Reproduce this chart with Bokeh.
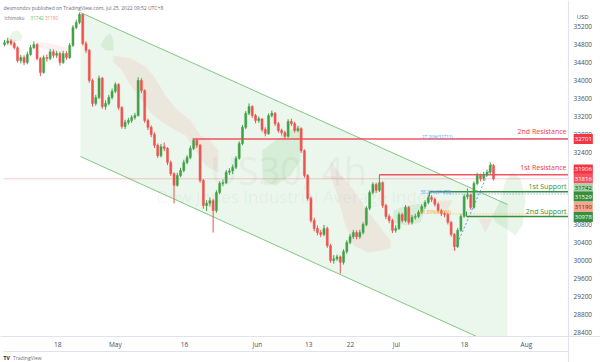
from bokeh.plotting import figure
from bokeh.models import ColumnDataSource, Label, FixedTicker, Range1d
from bokeh.core.properties import value
from bokeh.embed import file_html
from bokeh.resources import INLINE

# ---------------- data ----------------
first_open = 34800
close = [34840, 34880, 34820, 34730, 34440, 34510, 34400, 34580, 34730, 34800,
         34490, 34180, 34510, 34490, 34640, 34560, 34600, 34400, 34600, 34510,
         34780, 35180, 35290, 35470, 34820, 34670, 34000, 33490, 33620, 34050,
         33420, 33490, 33620, 33760, 33910, 33400, 32980, 33070, 33110, 33180,
         33220, 34000, 33780, 33110, 32960, 32800, 32560, 32330, 32530, 32490,
         32180, 31930, 31670, 31890, 32000, 32180, 32290, 32490, 32670, 32560,
         31780, 31220, 31270, 31330, 31110, 31510, 31710, 31730, 31960, 31990,
         32070, 32270, 32600, 32960, 33270, 33420, 33220, 33110, 33150, 32910,
         32820, 33220, 33270, 33040, 32890, 32840, 32760, 33090, 33040, 32890,
         32930, 32440, 31890, 31380, 30890, 30710, 30620, 30580, 30710, 30330,
         30000, 30040, 30080, 29960, 30200, 30400, 30530, 30620, 30530, 30620,
         30800, 31160, 31510, 31690, 31560, 31730, 31220, 30980, 30890, 30670,
         30710, 31020, 30890, 31180, 30850, 30960, 30980, 31070, 31200, 31290,
         31400, 31360, 31250, 31110, 31040, 31020, 30850, 30580, 30310, 30670,
         30980, 31420, 31460, 31180, 31710, 31890, 31820, 31910, 31960, 32110,
         31816]
high = [34900, 34950, 34920, 34860, 34760, 34570, 34560, 34640, 34790, 34870,
        34830, 34520, 34560, 34580, 34700, 34690, 34660, 34640, 34660, 34650,
        34830, 35230, 35350, 35510, 35480, 34870, 34700, 34040, 33680, 34110,
        34080, 33560, 33680, 33820, 33960, 33940, 33430, 33130, 33170, 33230,
        33280, 34070, 34050, 33800, 33150, 33000, 32850, 32600, 32590, 32620,
        32520, 32220, 31960, 31950, 32060, 32240, 32340, 32550, 32700, 32700,
        32590, 31810, 31340, 31400, 31370, 31560, 31760, 31800, 32010, 32050,
        32130, 32320, 32650, 33010, 33320, 33490, 33450, 33260, 33200, 33150,
        32960, 33270, 33330, 33300, 33080, 32930, 32880, 33140, 33150, 33080,
        32990, 32960, 32470, 31920, 31420, 30950, 30780, 30680, 30790, 30750,
        30370, 30120, 30130, 30110, 30250, 30450, 30590, 30680, 30670, 30680,
        30850, 31210, 31560, 31740, 31730, 31910, 31760, 31260, 31030, 30930,
        30780, 31070, 31060, 31230, 31210, 31010, 31040, 31120, 31250, 31340,
        31460, 31450, 31400, 31290, 31150, 31090, 31060, 30880, 30610, 30720,
        31030, 31470, 31600, 31480, 31760, 31950, 31930, 31970, 32020, 32180,
        32140]
low = [34760, 34800, 34780, 34690, 34400, 34380, 34340, 34360, 34550, 34700,
       34450, 34100, 34150, 34420, 34450, 34500, 34500, 34330, 34370, 34460,
       34480, 34750, 35140, 35250, 34780, 34610, 33950, 33420, 33440, 33590,
       33370, 33350, 33450, 33580, 33720, 33350, 32930, 32920, 33020, 33060,
       33130, 33200, 33720, 33060, 32900, 32740, 32500, 32280, 32290, 32430,
       32120, 31880, 31270, 31640, 31850, 31960, 32140, 32250, 32450, 32500,
       31730, 31150, 31100, 31200, 30620, 31060, 31470, 31650, 31700, 31900,
       31920, 32030, 32240, 32560, 32920, 33230, 33170, 33050, 33060, 32860,
       32760, 32790, 33180, 32990, 32840, 32780, 32700, 32730, 32990, 32840,
       32850, 32390, 31840, 31330, 30840, 30650, 30560, 30520, 30540, 30280,
       29950, 29930, 29990, 29710, 29910, 30150, 30360, 30480, 30470, 30480,
       30580, 30760, 31120, 31470, 31500, 31520, 31170, 30920, 30830, 30610,
       30620, 30680, 30840, 30850, 30800, 30800, 30910, 30940, 31030, 31150,
       31250, 31300, 31200, 31060, 30990, 30960, 30800, 30530, 30220, 30280,
       30640, 30950, 31360, 31130, 31150, 31670, 31760, 31770, 31870, 31920,
       31780]

price_ticks = [28400, 28800, 29200, 29600, 30000, 30400, 30800, 31200, 31600,
               32000, 32400, 32800, 33200, 33600, 34000, 34400, 34800, 35200]
time_tick_pos = [16.3, 34.0, 55.2, 77.6, 93.3, 106.1, 120.2, 141.1, 160.1]
time_tick_labels = ["18", "May", "16", "Jun", "13", "22", "Jul", "18", "Aug"]

resist2 = 32701
resist1 = 31906
support1 = 31529
support2 = 30978
last_price = 31816
ichimoku_a = 31742
ichimoku_b = 31190
fib_levels = [32711, 31478, 31036]
fib_names = ["-27.20%(32711)", "38.20%(31478)", "61.80%(31036)"]

channel_x = [23.3, 154.3, 154.3, 144.8, 23.3]
channel_y = [35511, 31244, 28312, 28312, 32311]
channel_upper_x = [23.3, 154.3]
channel_upper_y = [35511, 31244]
channel_lower_x = [23.3, 144.8]
channel_lower_y = [32311, 28312]

green_cloud_x = [[1.2, 2.5, 4.3, 5.5, 4.9, 1.8],
                 [29.4, 31.0, 32.5, 33.4, 33.4, 31.0],
                 [79.1, 83.1, 87.7, 90.8, 90.8, 87.7, 83.1, 79.1],
                 [119.3, 123.0, 127.6, 129.1, 127.6, 123.0, 119.3],
                 [149.7, 152.1, 153.7, 155.8, 158.3, 159.8, 158.9, 156.7, 153.7, 150.6]]
green_cloud_y = [[34934, 35089, 35111, 34978, 34889, 34845],
                 [34778, 34978, 35045, 34889, 34667, 34667],
                 [32445, 32667, 32889, 33000, 32223, 31889, 31667, 31778],
                 [31111, 31223, 31267, 31156, 30845, 30778, 30845],
                 [31001, 31334, 31778, 31956, 31823, 31334, 30778, 30556, 30712, 30845]]
red_cloud_x = [[0.9, 3.4, 3.4, 0.9],
               [10.1, 14.1, 19.3, 19.3, 14.1, 10.1],
               [33.4, 38.7, 43.3, 46.3, 49.4, 52.5, 57.1, 60.1, 63.2, 65.6,
                65.6, 61.7, 58.6, 55.5, 51.5, 48.5, 44.8, 41.7, 38.7, 35.6, 33.4],
               [100.0, 102.1, 107.1, 111.3, 115.3, 118.4,
                118.4, 115.3, 111.3, 107.1, 104.6, 102.1, 100.0],
               [132.8, 137.4, 135.3],
               [145.4, 149.7, 147.5]]
red_cloud_y = [[34889, 34911, 34756, 34778],
               [34867, 34823, 34734, 34623, 34667, 34756],
               [34556, 34489, 34311, 34045, 33667, 33378, 33111, 32778, 32667, 32445,
                31956, 32111, 32445, 32778, 32934, 33067, 33289, 33600, 33889, 34267, 34400],
               [32223, 32000, 31556, 31111, 30734, 30445,
                30267, 30223, 30178, 30334, 30778, 31445, 31889],
               [31334, 31334, 31023],
               [30934, 30934, 30623]]
fib_diag_x = [138.0, 149.7]
fib_diag_y = [30223, 32178]

# ---------------- drawing ----------------
UP = "#43a047"
DOWN = "#ef5350"
n = len(close)
xs = list(range(n))
opens = [first_open] + close[:-1]
colors = [UP if c >= o else DOWN for o, c in zip(opens, close)]
src = ColumnDataSource(dict(
    x=xs, open=opens, close=close, high=high, low=low, color=colors,
    top=[max(o, c) for o, c in zip(opens, close)],
    bottom=[min(o, c) for o, c in zip(opens, close)],
))

# the frame spans the whole page; the chart pane is X0..X1 / YB..YT
X0, X1 = -0.31, 173.0
YB, YT = 28312, 35556
p = figure(width=600, height=362, output_backend="svg", toolbar_location=None,
           x_range=Range1d(-1.227, 182.82), y_range=Range1d(27733.3, 35777.8),
           y_axis_location="right", min_border=0,
           min_border_left=0, min_border_right=0, min_border_top=0, min_border_bottom=0)
p.xgrid.visible = False
p.ygrid.visible = False
p.outline_line_color = None
p.background_fill_color = "white"
p.border_fill_color = "white"

ax = p.yaxis[0]
ax.fixed_location = X1
ax.ticker = FixedTicker(ticks=price_ticks)
ax.major_tick_out = 0
ax.major_tick_in = 0
ax.minor_tick_out = 0
ax.minor_tick_in = 0
ax.axis_line_color = "#e0e3eb"
ax.major_label_text_font_size = "6.5px"
ax.major_label_text_color = "#4a4d57"
ax.major_label_text_font = "Open Sans"
ax.major_label_standoff = 5

bx = p.xaxis[0]
bx.fixed_location = YB
bx.ticker = FixedTicker(ticks=time_tick_pos)
bx.major_label_overrides = {t: l for t, l in zip(time_tick_pos, time_tick_labels)}
bx.major_tick_out = 0
bx.major_tick_in = 0
bx.minor_tick_out = 0
bx.minor_tick_in = 0
bx.axis_line_color = "#e0e3eb"
bx.major_label_text_font_size = "6.5px"
bx.major_label_text_color = "#4a4d57"
bx.major_label_text_font = "Open Sans"
bx.major_label_standoff = 4

# time-scale band border
p.line([X0, X1], [27978, 27978], line_color="#e0e3eb", line_width=1)

# channel
p.patch(channel_x, channel_y, fill_color="#4caf50", fill_alpha=0.11, line_color=None)
p.line(channel_upper_x, channel_upper_y, line_color="#81c784", line_width=1)
p.line(channel_lower_x, channel_lower_y, line_color="#81c784", line_width=1)

# ichimoku clouds
p.patches(green_cloud_x, green_cloud_y, fill_color="#4caf50", fill_alpha=0.13, line_color=None)
p.patches(red_cloud_x, red_cloud_y, fill_color="#f44336", fill_alpha=0.08, line_color=None)

# watermark
p.text(x=[87.1], y=[32000], text=["US30, 4h"], text_font=value("Open Sans"),
       text_font_size="38px", text_color="#000000", text_alpha=0.055, text_align="center",
       text_baseline="alphabetic")
p.text(x=[89.3], y=[31423], text=["Dow Jones Industrial Average Index"], text_font=value("Open Sans"),
       text_font_size="17px", text_color="#000000", text_alpha=0.055, text_align="center",
       text_baseline="alphabetic")

# current price line
p.line([X0, X1], [last_price, last_price], line_color="#f23645", line_alpha=0.25, line_width=1)

# fib lines
p.line([136.8, X1], [fib_levels[0]] * 2, line_color="#5b9cf6", line_dash="1 2", line_width=1)
p.line([134.7, X1], [fib_levels[1]] * 2, line_color="#5b9cf6", line_dash="1 2", line_width=1)
p.line([134.7, X1], [fib_levels[2]] * 2, line_color="#ffb74d", line_dash="1 2", line_width=1)
p.line(fib_diag_x, fib_diag_y, line_color="#5b9cf6", line_dash="2 2", line_width=1)

# resistance / support
p.line([57.7, X1], [resist2] * 2, line_color="#f23645", line_width=1.5, line_alpha=0.85)
p.line([115.0, X1], [resist1] * 2, line_color="#f23645", line_width=1.5, line_alpha=0.85)
p.line([130.4, X1], [support1] * 2, line_color="#388e3c", line_width=1.5)
p.line([130.4, 130.4], [support1, support1 - 110], line_color="#388e3c", line_width=1)
p.line([141.7, X1], [support2] * 2, line_color="#388e3c", line_width=1.5)
p.line([141.7, 141.7], [support2, support2 + 110], line_color="#388e3c", line_width=1)

# candles
p.segment(x0="x", y0="low", x1="x", y1="high", color="color", line_width=1, source=src)
p.vbar(x="x", width=0.62, top="top", bottom="bottom", fill_color="color", line_color="color",
       line_width=0.5, source=src)

def lab(x, y, t, size="7px", color="#f23645", align="right", baseline="alphabetic", **kw):
    p.add_layout(Label(x=x, y=y, text=t, text_font_size=size, text_color=color,
                       text_align=align, text_baseline=baseline, text_font="Open Sans", **kw))

lab(172.4, 32867, "2nd Resistance")
lab(172.4, 32067, "1st Resistance")
lab(172.4, 31645, "1st Support", color="#388e3c")
lab(172.4, 31089, "2nd Support", color="#388e3c")

lab(127.6, fib_levels[0] + 40, fib_names[0], size="4.5px", color="#5b9cf6", align="left")
lab(127.6, fib_levels[1] + 40, fib_names[1], size="4.5px", color="#5b9cf6", align="left")
lab(127.6, fib_levels[2] + 40, fib_names[2], size="4.5px", color="#f5a623", align="left")

lab(0.0, 35378, "Ichimoku", size="4.6px", color="#6a6d78", align="left")
lab(8.0, 35378, str(ichimoku_a), size="4.6px", color="#66bb6a", align="left")
lab(12.4, 35378, str(ichimoku_b), size="4.6px", color="#ef8a7a", align="left")

lab(-0.3, 35622, "desmondzv published on TradingView.com, Jul 25, 2022 09:52 UTC+8",
    size="5px", color="#6a6d78", align="left")
lab(175.5, 35422, "USD", size="6px", color="#4a4d57", align="left")
lab(-0.3, 27823, "TV", size="5px", color="#131722", align="left", text_font_style="bold")
lab(2.6, 27823, "TradingView", size="5px", color="#6a6d78", align="left")

# price boxes on the scale
box_y = [32700, 32023, 31822, 31600, 31422, 31189, 30967]
box_vals = [resist2, resist1, last_price, ichimoku_a, support1, ichimoku_b, support2]
box_bg = ["#f23645", "#f23645", "#f7525f", "#a5d6a7", "#388e3c", "#f7a58f", "#388e3c"]
box_fg = ["white", "white", "white", "#1b3d1e", "white", "#4a2a22", "white"]
for yy, v, bg, fg in zip(box_y, box_vals, box_bg, box_fg):
    p.add_layout(Label(x=174.6, y=yy, text=str(v), text_font_size="6px", text_color=fg,
                       text_align="left", text_baseline="middle", text_font="Open Sans",
                       background_fill_color=bg, padding=(1, 3)))

open("out.html", "w").write(file_html(p, INLINE))
